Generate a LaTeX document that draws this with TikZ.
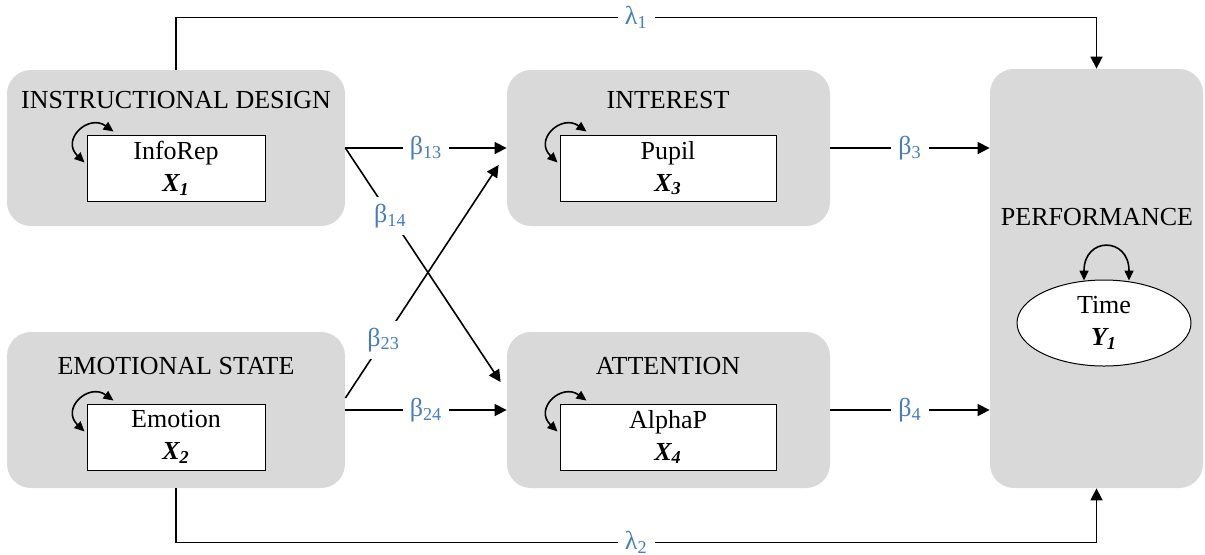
\documentclass[tikz,border=0pt]{standalone}
\usepackage{fontspec}
\setmainfont{Liberation Serif}
\usetikzlibrary{arrows.meta,shapes.geometric,calc}

\definecolor{panelgray}{RGB}{217,217,217}
\definecolor{coefblue}{RGB}{70,125,190}

\begin{document}
\begin{tikzpicture}[x=0.5pt, y=-0.5pt, font=\fontsize{13}{16}\selectfont,
    panel/.style={rounded corners=12pt, fill=panelgray, inner sep=0pt},
    var/.style={draw, fill=white, line width=0.5pt, minimum width=89pt, minimum height=33pt, align=center, inner sep=1pt},
    arr/.style={-{Triangle[length=6pt,width=6pt]}, line width=0.8pt},
    selfloop/.style={{Triangle[length=5pt,width=4.5pt]}-{Triangle[length=5pt,width=4.5pt]}, line width=0.8pt},
    coef/.style={fill=white, text=coefblue, inner sep=3.5pt}]
    \useasboundingbox (0,0) rectangle (1205,554);

    % latent blocks
    \node[panel, minimum width=169pt, minimum height=78pt] (ID) at (176,148) {};
    \node[panel, minimum width=169pt, minimum height=78pt] (ES) at (176,410) {};
    \node[panel, minimum width=161.5pt, minimum height=78pt] (INT) at (668.5,148) {};
    \node[panel, minimum width=161.5pt, minimum height=78pt] (ATT) at (668.5,410) {};
    \node[panel, minimum width=106.5pt, minimum height=209.5pt] (PERF) at (1096.5,278.5) {};

    % block titles
    \node (IDt) at (176,100) {INSTRUCTIONAL DESIGN};
    \node (ESt) at (176,366) {EMOTIONAL STATE};
    \node (INTt) at (668,100) {INTEREST};
    \node (ATTt) at (668,366) {ATTENTION};
    \node (PERFt) at (1097,217) {PERFORMANCE};

    % measured variables
    \node[var] (X1) at (176,168) {InfoRep\\\textbf{\textit{X\textsubscript{1}}}};
    \node[var] (X2) at (176,437) {Emotion\\\textbf{\textit{X\textsubscript{2}}}};
    \node[var, minimum width=108pt] (X3) at (668,168) {Pupil\\\textbf{\textit{X\textsubscript{3}}}};
    \node[var, minimum width=108pt] (X4) at (668,437) {AlphaP\\\textbf{\textit{X\textsubscript{4}}}};
    \node[draw, fill=white, line width=0.5pt, ellipse, minimum width=87pt, minimum height=43pt, align=center, inner sep=0pt] (Y1) at (1104,323) {Time\\\textbf{\textit{Y\textsubscript{1}}}};

    % variances
    \draw[selfloop] ($(X1.north west)+(-2,28)$) .. controls +(-24,-23) and +(-25,-18) .. ($(X1.north west)+(27,-3)$);
    \draw[selfloop] ($(X2.north west)+(-2,28)$) .. controls +(-24,-23) and +(-25,-18) .. ($(X2.north west)+(27,-3)$);
    \draw[selfloop] ($(X3.north west)+(-2,28)$) .. controls +(-24,-23) and +(-25,-18) .. ($(X3.north west)+(27,-3)$);
    \draw[selfloop] ($(X4.north west)+(-2,28)$) .. controls +(-24,-23) and +(-25,-18) .. ($(X4.north west)+(27,-3)$);
    \draw[selfloop] ($(Y1.north)+(-20,1)$) .. controls +(0,-44) and +(0,-44) .. ($(Y1.north)+(25,1)$);

    % paths
    \draw[arr] (ID.east) -- node[coef] {β\textsubscript{13}} (INT.west);
    \draw[arr] (ID.east) -- node[coef, pos=0.29] {β\textsubscript{14}} ($(ATT.west)+(-6,-28)$);
    \draw[arr] ($(ES.east)+(0,-12)$) -- node[coef, pos=0.25] {β\textsubscript{23}} ($(INT.west)+(-8,17)$);
    \draw[arr] (ES.east) -- node[coef] {β\textsubscript{24}} (ATT.west);
    \draw[arr] (INT.east) -- node[coef] {β\textsubscript{3}} (INT.east -| PERF.west);
    \draw[arr] (ATT.east) -- node[coef] {β\textsubscript{4}} (ATT.east -| PERF.west);
    \draw[arr] (ID.north) -- ++(0,-52) -| node[coef, pos=0.25] {λ\textsubscript{1}} (PERF.north);
    \draw[arr] (ES.south) -- ++(0,54) -| node[coef, pos=0.25] {λ\textsubscript{2}} (PERF.south);
\end{tikzpicture}
\end{document}
